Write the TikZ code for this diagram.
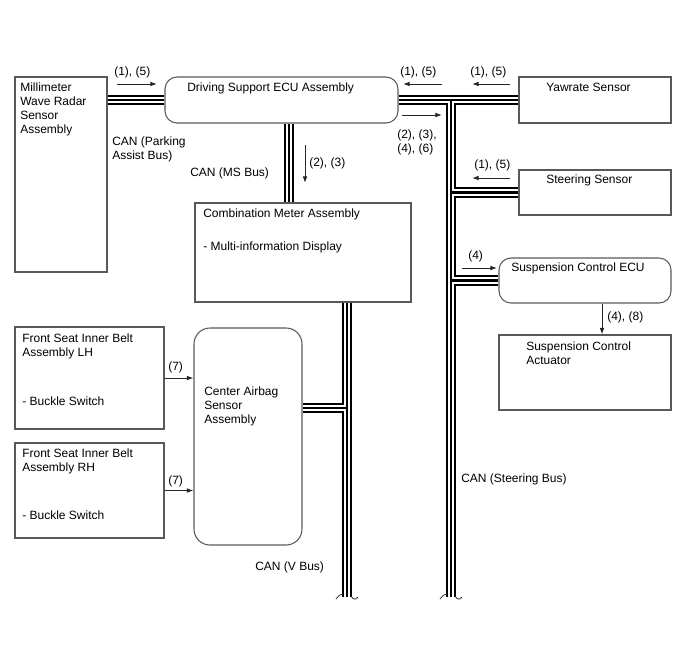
\documentclass[tikz,border=0pt]{standalone}
\usepackage{fontspec}
\setmainfont{Liberation Sans}
\usetikzlibrary{arrows.meta,fit,calc}

\tikzset{
  box/.style={draw=black!65, line width=0.8pt, inner sep=0pt},
  ecubox/.style={box, rounded corners=9pt},
  txt/.style={anchor=north west, inner sep=0pt, align=left, font=\fontsize{9}{10.5}\selectfont},
  sig/.style={draw=black!85, line width=0.75pt, -{Latex[length=5pt,width=3.6pt]}},
  brk/.style={draw=black!80, line width=0.6pt},
}

\begin{document}
\begin{tikzpicture}[x=0.75pt,y=-0.75pt]
	\useasboundingbox (0,0) rectangle (688,658);

	% units
	\node[box, fit={(15,77) (107,272)}] (radar) {};
	\node[ecubox, fit={(165,77) (398,123)}] (ecu) {};
	\node[box, fit={(519,77) (671,123)}] (yaw) {};
	\node[box, fit={(519,170) (671,215)}] (steer) {};
	\node[ecubox, fit={(499,258) (671,303)}] (susp) {};
	\node[box, fit={(499,335) (671,410)}] (act) {};
	\node[box, fit={(195,203) (411,302)}] (meter) {};
	\node[box, rounded corners=12pt, fit={(194,328) (302,545)}] (airbag) {};
	\node[box, fit={(15,327) (164,429)}] (lh) {};
	\node[box, fit={(15,443) (164,538)}] (rh) {};

	% unit texts
	\node[txt] (radar-t) at (20,83) {Millimeter\\Wave Radar\\Sensor\\Assembly};
	\node[txt] (ecu-t) at (187,83) {Driving Support ECU Assembly};
	\node[txt] (yaw-t) at (546,83) {Yawrate Sensor};
	\node[txt] (steer-t) at (546,175) {Steering Sensor};
	\node[txt] (susp-t) at (511,263) {Suspension Control ECU};
	\node[txt] (act-t) at (526,342) {Suspension Control\\Actuator};
	\node[txt] (meter-t) at (203,209) {Combination Meter Assembly};
	\node[txt] (meter-d) at (203,242) {- Multi-information Display};
	\node[txt] (airbag-t) at (204,387) {Center Airbag\\Sensor\\Assembly};
	\node[txt] (lh-t) at (22,334) {Front Seat Inner Belt\\Assembly LH};
	\node[txt] (lh-d) at (22,397) {- Buckle Switch};
	\node[txt] (rh-t) at (22,449) {Front Seat Inner Belt\\Assembly RH};
	\node[txt] (rh-d) at (22,511) {- Buckle Switch};

	% bus names and signal numbers
	\node[txt] (pa-lbl) at (112,137) {CAN (Parking\\Assist Bus)};
	\node[txt] (ms-lbl) at (190,168) {CAN (MS Bus)};
	\node[txt] (st-lbl) at (461,474) {CAN (Steering Bus)};
	\node[txt] (v-lbl) at (255,562) {CAN (V Bus)};
	\node[txt] (n-radar) at (114,67) {(1), (5)};
	\node[txt] (n-ecu) at (400,67) {(1), (5)};
	\node[txt] (n-yaw) at (470,67) {(1), (5)};
	\node[txt] (n-out) at (397,130) {(2), (3),\\(4), (6)};
	\node[txt] (n-ms) at (309,158) {(2), (3)};
	\node[txt] (n-steer) at (474,160) {(1), (5)};
	\node[txt] (n-susp) at (468,251) {(4)};
	\node[txt] (n-act) at (607,312) {(4), (8)};
	\node[txt] (n-lh) at (168,362) {(7)};
	\node[txt] (n-rh) at (168,476) {(7)};

	% bus points
	\coordinate (msx) at (289,0);
	\coordinate (sj) at (451,100);
	\coordinate (send) at (451,597);
	\coordinate (vj) at (347,408);
	\coordinate (vend) at (347,597);
	\coordinate (sax) at (602,0);

	% CAN buses, drawn in three layers
	\foreach \lw/\col in {8pt/black, 4.6pt/white, 1.7pt/black}{
		\draw[line width=\lw, \col] (ecu.west) -- (ecu.west -| radar.east);
		\draw[line width=\lw, \col] (ecu.south -| msx) -- (meter.north -| msx);
		\draw[line width=\lw, \col] (ecu.east) -- (yaw.west);
		\draw[line width=\lw, \col] (sj) -- (send);
		\draw[line width=\lw, \col] (steer.west) -- (steer.west -| sj);
		\draw[line width=\lw, \col] (susp.west) -- (susp.west -| sj);
		\draw[line width=\lw, \col] (meter.south -| vend) -- (vend);
		\draw[line width=\lw, \col] (vj) -- (vj -| airbag.east);
	}

	% broken ends
	\foreach \e in {vend, send}{
		\draw[brk] ($(\e)+(-11,2)$) .. controls ($(\e)+(-8,-2)$) and ($(\e)+(-6,-3)$) .. ($(\e)+(-4,-3)$);
		\draw[brk] ($(\e)+(4,-1)$) .. controls ($(\e)+(6,3)$) and ($(\e)+(9,3)$) .. ($(\e)+(11,0)$);
	}

	% signal arrows
	\draw[sig] (lh.east) -- (lh.east -| airbag.west);
	\draw[sig] (rh.east) -- (rh.east -| airbag.west);
	\draw[sig] (susp.south -| sax) -- (act.north -| sax);
	\foreach \i/\xa/\ya/\xb/\yb in {1/117/84/157/84, 2/442/84/403/84, 3/510/84/472/84,
		4/402/115/442/115, 5/305/145/305/183, 6/510/178/472/178, 7/462/268/497/268}{
		\coordinate (a\i) at (\xa,\ya);
		\coordinate (b\i) at (\xb,\yb);
		\draw[sig] (a\i) -- (b\i);
	}
\end{tikzpicture}
\end{document}
